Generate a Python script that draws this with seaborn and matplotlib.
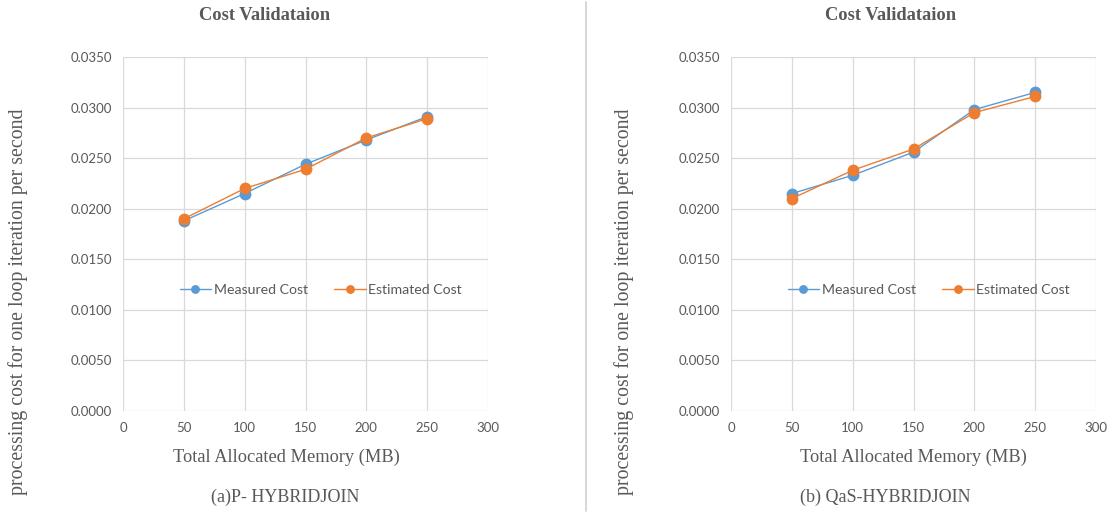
import matplotlib
matplotlib.use("Agg")
import matplotlib.pyplot as plt
import numpy as np
import pandas as pd
import seaborn as sns
from matplotlib.ticker import FormatStrFormatter, MultipleLocator

memory_mb = [50, 100, 150, 200, 250]

p_measured = [0.0188, 0.0215, 0.0244, 0.0268, 0.0291]
p_estimated = [0.0190, 0.0220, 0.0239, 0.0270, 0.0289]

qas_measured = [0.0215, 0.0233, 0.0256, 0.0298, 0.0315]
qas_estimated = [0.0210, 0.0238, 0.0259, 0.0295, 0.0311]

series_names = ["Measured Cost", "Estimated Cost"]
panel_titles = ["Cost Validataion", "Cost Validataion"]
panel_captions = ["(a)P- HYBRIDJOIN", "(b) QaS-HYBRIDJOIN"]
x_label = "Total Allocated Memory (MB)"
y_label = "processing cost for one loop iteration per second"

BLUE = "#5B9BD5"
ORANGE = "#ED7D31"
GREY_TXT = "#595959"
GRID = "#d9d9d9"

sns.set_theme(style="white")
plt.rcParams["font.family"] = ["Lato", "DejaVu Sans"]


def _frame(measured, estimated):
    return pd.DataFrame({
        "memory": memory_mb * 2,
        "cost": measured + estimated,
        "series": [series_names[0]] * len(memory_mb) + [series_names[1]] * len(memory_mb),
    })


def _draw_panel(fig, rect, measured, estimated, title, caption, title_x, label_x, cap_x, ylab_x):
    ax = fig.add_axes(rect)
    df = _frame(measured, estimated)
    sns.lineplot(
        data=df, x="memory", y="cost", hue="series",
        palette=[BLUE, ORANGE], marker="o", markersize=8.5,
        markeredgewidth=0, linewidth=1.0, ax=ax,
    )
    ax.set_xlim(0, 300)
    ax.set_ylim(0, 0.035)
    ax.xaxis.set_major_locator(MultipleLocator(50))
    ax.yaxis.set_major_locator(MultipleLocator(0.005))
    ax.yaxis.set_major_formatter(FormatStrFormatter("%.4f"))
    ax.grid(True, color=GRID, linewidth=0.9)
    for s in ax.spines.values():
        s.set_visible(False)
    ax.tick_params(axis="both", length=0, labelsize=9.5, labelcolor=GREY_TXT, pad=8)
    ax.set_xlabel("")
    ax.set_ylabel("")

    leg = ax.legend(
        loc="center", bbox_to_anchor=(0.542, 0.342), ncol=2, frameon=False,
        fontsize=10.2, markerscale=0.75, handlelength=2.2, columnspacing=1.9,
        handletextpad=0.2,
    )
    for t in leg.get_texts():
        t.set_color(GREY_TXT)

    serif = ["Liberation Serif", "DejaVu Serif"]
    fig.text(title_x, 1 - 16 / 513, title, ha="center", va="center",
             family=serif, fontsize=13.3, fontweight="bold", color=GREY_TXT)
    fig.text(label_x, 1 - 457 / 513, x_label, ha="center", va="center",
             family=serif, fontsize=13.2, color=GREY_TXT)
    fig.text(cap_x, 1 - 497 / 513, caption, ha="center", va="center",
             family=serif, fontsize=13, color=GREY_TXT)
    fig.text(ylab_x, 1 - 302 / 513, y_label, ha="center", va="center", rotation=90,
             family=serif, fontsize=14.3, color=GREY_TXT)
    return ax


fig = plt.figure(figsize=(11.11, 5.13), dpi=100)

_draw_panel(fig, [123 / 1111, 1 - 411 / 513, 365 / 1111, 354 / 513],
            p_measured, p_estimated, panel_titles[0], panel_captions[0],
            265 / 1111, 286 / 1111, 285 / 1111, 18 / 1111)
_draw_panel(fig, [731 / 1111, 1 - 411 / 513, 365 / 1111, 354 / 513],
            qas_measured, qas_estimated, panel_titles[1], panel_captions[1],
            891 / 1111, 913 / 1111, 885 / 1111, 624 / 1111)

fig.add_artist(plt.Line2D([586 / 1111, 586 / 1111], [2 / 513, 511 / 513],
                          transform=fig.transFigure, color="#d0d0d0", linewidth=1.2))

fig.savefig("out.png", dpi=100)
